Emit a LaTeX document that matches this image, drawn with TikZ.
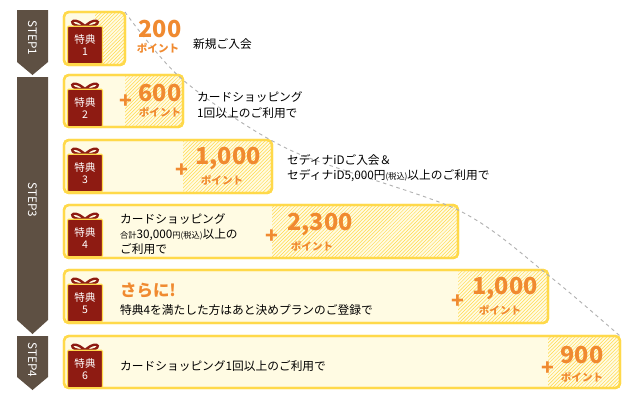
\documentclass[tikz,border=0pt]{standalone}
\usepackage{fontspec}
\setmainfont{Noto Sans CJK JP}
\usetikzlibrary{patterns,calc}
\definecolor{stepbrown}{HTML}{5E5043}
\definecolor{boxline}{HTML}{FFD94A}
\definecolor{boxfill}{HTML}{FFFBE3}
\definecolor{giftred}{HTML}{8E1B12}
\definecolor{ptorange}{HTML}{F08A30}
\tikzstyle{stepbar}=[fill=stepbrown]
\tikzstyle{steplabel}=[white,font=\fontsize{10}{10}\selectfont,rotate=-90]
\tikzstyle{rowbox}=[draw=boxline,line width=2pt,fill=boxfill,rounded corners=4pt]
\tikzstyle{hatch}=[pattern=north east lines,pattern color=boxline]
\tikzstyle{giftbox}=[fill=giftred,draw=boxline,line width=1pt,rounded corners=1pt]
\tikzstyle{gifttext}=[white,font=\fontsize{9}{10}\selectfont,align=center]
\tikzstyle{num}=[ptorange,font=\bfseries\fontsize{20}{20}\selectfont,inner sep=0pt]
\tikzstyle{pt}=[ptorange,font=\bfseries\fontsize{9}{9}\selectfont,inner sep=0pt]
\tikzstyle{plus}=[ptorange,font=\bfseries\fontsize{18}{18}\selectfont,inner sep=0pt]
\tikzstyle{desc}=[font=\fontsize{10}{13}\selectfont,align=left,anchor=west,inner sep=0pt]
\begin{document}
\begin{tikzpicture}[x=0.03cm,y=-0.03cm]
    \useasboundingbox (0,0) rectangle (640,413);

    % step bars
    \fill[stepbar] (17,10) -- (48,10) -- (48,62) -- (32.5,75) -- (17,62) -- cycle;
    \fill[stepbar] (17,77) -- (48,77) -- (48,320) -- (32.5,334) -- (17,320) -- cycle;
    \fill[stepbar] (17,336) -- (48,336) -- (48,377) -- (32.5,390) -- (17,377) -- cycle;
    \node[steplabel] (s1) at (32.5,38) {STEP1};
    \node[steplabel] (s3) at (32.5,200) {STEP3};
    \node[steplabel] (s4) at (32.5,360) {STEP4};

    % boxes: top / bottom / hatch start / right end / number
    \foreach \t/\b/\h/\r/\n in {12/65/95/125/1, 75/127/125/183/2, 140/193/183/272/3,
                                205/258/272/458/4, 270/323/458/548/5, 336/388/548/620/6} {
        \draw[rowbox] (64,\t) rectangle (\r,\b);
        \fill[hatch] (\h,\t+1) rectangle (\r-1,\b-1);
        \draw[boxline,line width=2pt,rounded corners=4pt] (64,\t) rectangle (\r,\b);
        % gift
        \draw[giftred,line width=2pt] (85,\t+14) .. controls (70,\t+1) and (66,\t+16) .. (85,\t+14)
                                     .. controls (104,\t+16) and (100,\t+1) .. (85,\t+14);
        \node[giftbox,minimum width=30pt,minimum height=32pt,inner sep=0pt] (g\n) at (85,\t+33) {};
        \node[gifttext] (gt\n) at (g\n) {特典\\\n};
    }

    % dashed guide
    \draw[gray!60,dashed,line width=0.8pt] plot[smooth] coordinates
        {(125,12) (183,80) (290,150) (458,210) (548,275) (620,336)};

    % row 1
    \node[num] (n1) at (160,29) {200};
    \node[pt] (p1) at (158,48) {ポイント};
    \node[desc] (d1) at (193,44) {新規ご入会};
    % row 2
    \node[plus] (a2) at (126,102) {+};
    \node[num] (n2) at (160,93) {600};
    \node[pt] (p2) at (160,112) {ポイント};
    \node[desc] (d2) at (197,105) {カードショッピング\\1回以上のご利用で};
    % row 3
    \node[plus] (a3) at (182,171) {+};
    \node[num] (n3) at (228,158) {1,000};
    \node[pt] (p3) at (222,180) {ポイント};
    \node[desc] (d3) at (287,168) {セディナiDご入会＆\\セディナiD5,000円{\fontsize{7}{7}\selectfont(税込)}以上のご利用で};
    % row 4
    \node[desc] (d4) at (120,234) {カードショッピング\\{\fontsize{7}{7}\selectfont 合計}30,000{\fontsize{7}{7}\selectfont 円(税込)}以上の\\ご利用で};
    \node[plus] (a4) at (272,237) {+};
    \node[num] (n4) at (320,224) {2,300};
    \node[pt] (p4) at (312,246) {ポイント};
    % row 5
    \node[desc,ptorange,font=\bfseries\fontsize{14}{14}\selectfont] (h5) at (120,290) {さらに!};
    \node[desc] (d5) at (120,310) {特典4を満たした方はあと決めプランのご登録で};
    \node[plus] (a5) at (458,302) {+};
    \node[num] (n5) at (505,288) {1,000};
    \node[pt] (p5) at (500,310) {ポイント};
    % row 6
    \node[desc] (d6) at (120,366) {カードショッピング1回以上のご利用で};
    \node[plus] (a6) at (548,369) {+};
    \node[num] (n6) at (582,355) {900};
    \node[pt] (p6) at (582,377) {ポイント};
\end{tikzpicture}
\end{document}
